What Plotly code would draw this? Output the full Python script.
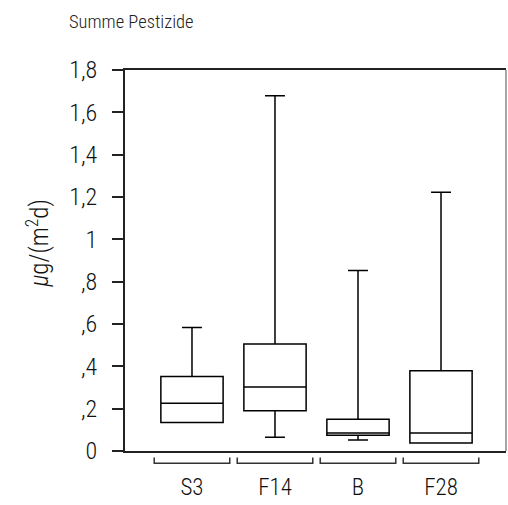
import plotly.graph_objects as go

# Pesticide deposition per site (µg/(m²d)), five-number summaries
categories = ["S3", "F14", "B", "F28"]
lower_whisker = [0.135, 0.065, 0.052, 0.038]
q1 = [0.135, 0.190, 0.074, 0.038]
median = [0.226, 0.302, 0.085, 0.085]
q3 = [0.352, 0.506, 0.150, 0.379]
upper_whisker = [0.584, 1.678, 0.853, 1.223]

y_tick_vals = [0, 0.2, 0.4, 0.6, 0.8, 1.0, 1.2, 1.4, 1.6, 1.8]
y_tick_text = ["0", ",2", ",4", ",6", ",8", "1", "1,2", "1,4", "1,6", "1,8"]

# prefer a condensed face when one is available
FONT = ("Liberation Sans Narrow, Roboto Condensed, Noto Sans Condensed, "
        "DejaVu Sans Condensed, Roboto, sans-serif")
positions = list(range(len(categories)))

fig = go.Figure()
fig.add_trace(go.Box(
    x=positions,
    q1=q1, median=median, q3=q3,
    lowerfence=lower_whisker, upperfence=upper_whisker,
    width=0.75,
    whiskerwidth=0.32,
    fillcolor="white",
    line=dict(color="black", width=1.5),
    boxpoints=False,
    hoverinfo="skip",
    showlegend=False,
))

# category brackets below the x axis
half = 0.455
for p in positions:
    fig.add_shape(
        type="path",
        xref="x", yref="paper",
        path=f"M {p-half},-0.017 L {p-half},-0.032 L {p+half},-0.032 L {p+half},-0.017",
        line=dict(color="#333333", width=1.5),
    )

# light right border
fig.add_shape(type="line", xref="paper", yref="paper", x0=1, x1=1, y0=0, y1=1,
              line=dict(color="#888888", width=1.5))

fig.add_annotation(
    text="Summe Pestizide", xref="paper", yref="paper",
    x=-0.152, y=1.126, xanchor="left", yanchor="middle",
    showarrow=False, font=dict(family=FONT, size=18.5, color="#222222", weight=300),
)

# y-axis unit label, set slightly above the axis midpoint
fig.add_annotation(
    text="<i>μ</i>g/(m<sup>2</sup>d)", xref="paper", yref="paper",
    x=-0.228, y=0.545, xanchor="center", yanchor="middle", textangle=-90,
    showarrow=False, font=dict(family=FONT, size=25, color="#111111", weight=300),
)

fig.update_layout(
    width=508, height=505,
    margin=dict(l=125, r=2, t=70, b=54),
    paper_bgcolor="white", plot_bgcolor="white",
    font=dict(family=FONT, color="#111111", weight=300),
    xaxis=dict(
        range=[-0.807, 3.783],
        tickvals=positions, ticktext=categories,
        ticks="", showgrid=False, zeroline=False,
        showline=True, linecolor="#222222", linewidth=2, mirror=True,
        tickfont=dict(family=FONT, size=23, weight=300),
        ticklabelstandoff=14,
    ),
    yaxis=dict(
        range=[0, 1.8],
        tickvals=y_tick_vals, ticktext=y_tick_text,
        ticks="outside", ticklen=11, tickwidth=1.5, tickcolor="#222222",
        showgrid=False, zeroline=False,
        showline=True, linecolor="#222222", linewidth=2,
        tickfont=dict(family=FONT, size=24, weight=300),
        ticklabelstandoff=10,
    ),
)

fig.write_html("out.html")
